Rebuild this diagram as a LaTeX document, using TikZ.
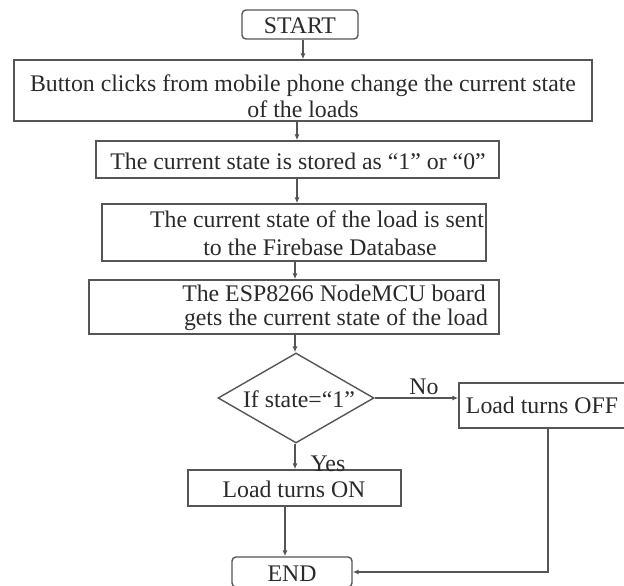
\documentclass[tikz,border=0pt]{standalone}
\usepackage{fontspec}
\setmainfont{Liberation Serif}
\usetikzlibrary{arrows.meta,shapes.geometric}
\definecolor{ln}{HTML}{555555}
\definecolor{tx}{HTML}{2A2A2A}
\tikzset{
  boxnode/.style={draw=ln,line width=1.4pt,inner sep=0pt},
  txt/.style={text=tx,font=\fontsize{23.8}{26}\selectfont,inner sep=0pt,align=center,yshift=-1.5pt},
  conn/.style={draw=ln,line width=1.1pt,-{Latex[length=6pt,width=5pt]}},
}
\begin{document}
\begin{tikzpicture}[x=1pt,y=-1pt]
\useasboundingbox (0,0) rectangle (624,586);
% boxes
\node[boxnode,rounded corners=4pt,minimum width=116pt,minimum height=29pt] (start) at (300,24.5) {};
\node[boxnode,minimum width=578pt,minimum height=61pt] (b1) at (303,90.5) {};
\node[boxnode,minimum width=403pt,minimum height=37pt] (b2) at (297.5,159.5) {};
\node[boxnode,minimum width=384pt,minimum height=57pt] (b3) at (294,232.5) {};
\node[boxnode,minimum width=410pt,minimum height=54pt] (b4) at (294,307) {};
\node[boxnode,diamond,minimum width=156pt,minimum height=90pt] (dec) at (296,398) {};
\node[boxnode,minimum width=166pt,minimum height=45pt] (off) at (542,405.5) {};
\node[boxnode,minimum width=213pt,minimum height=36pt] (on) at (294.5,488) {};
\node[boxnode,rounded corners=4pt,minimum width=120pt,minimum height=30pt] (end) at (292,572) {};
% texts
\node[txt] (tstart) at (300,24) {START};
\node[txt] (t1a) at (303,84) {Button clicks from mobile phone change the current state};
\node[txt] (t1b) at (303,108) {of the loads};
\node[txt] (t2) at (298,160) {The current state is stored as “1” or “0”};
\node[txt] (t3a) at (317,218) {The current state of the load is sent};
\node[txt] (t3b) at (320,246) {to the Firebase Database};
\node[txt] (t4a) at (334,292) {The ESP8266 NodeMCU board};
\node[txt] (t4b) at (336,318) {gets the current state of the load};
\node[txt] (tdec) at (299,398) {If state=“1”};
\node[txt] (toff) at (542,404) {Load turns OFF};
\node[txt] (ton) at (294,488) {Load turns ON};
\node[txt] (tend) at (292,572) {END};
\node[txt] (yes) at (328,462) {Yes};
\node[txt] (no) at (424,385) {No};
% connectors
\draw[conn] (start.south -| 303,0) -- (b1.north -| 303,0);
\draw[conn] (b1.south -| 297,0) -- (b2.north -| 297,0);
\draw[conn] (b2.south -| 297,0) -- (b3.north -| 297,0);
\draw[conn] (b3.south -| 295,0) -- (b4.north -| 295,0);
\draw[conn] (b4.south -| 295,0) -- (dec.north -| 295,0);
\draw[conn] (dec.south -| 295,0) -- (on.north -| 295,0);
\draw[conn] (dec.east) -- (off.west |- dec.east);
\draw[conn] (on.south -| 285,0) -- (end.north -| 285,0);
\coordinate (corner) at (548,572);
\draw[conn] (off.south -| corner) -- (corner) -- (end.east);
\end{tikzpicture}
\end{document}
